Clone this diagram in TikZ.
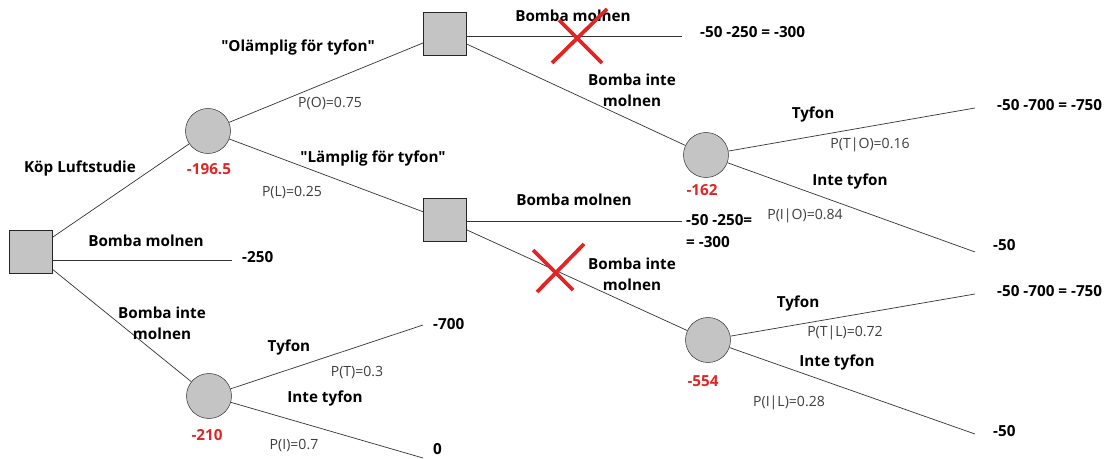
\documentclass[tikz,border=0pt]{standalone}
\usepackage{fontspec}
\setmainfont{Open Sans}[Ligatures=TeXOff]
\definecolor{nodegray}{RGB}{196,196,196}
\definecolor{valred}{RGB}{226,36,36}
\definecolor{probgray}{RGB}{62,62,62}

\begin{document}
\begin{tikzpicture}[x=0.03cm, y=-0.03cm,
      decision/.style={draw=black!85, fill=nodegray, minimum size=1.29cm, inner sep=0},
      chance/.style={circle, draw=black!85, fill=nodegray, minimum size=1.35cm, inner sep=0},
      branch/.style={line width=0.6pt, color=black!80},
      lbl/.style={font=\bfseries\fontsize{13}{18}\selectfont, inner sep=0, anchor=mid},
      twolbl/.style={lbl, align=center, anchor=center},
      prob/.style={font=\fontsize{12}{14}\selectfont, color=probgray, inner sep=0, anchor=mid},
      val/.style={lbl, color=valred},
      pay/.style={lbl, anchor=mid west},
      cross/.style={line width=3.2pt, color=valred}]
      \useasboundingbox (0,0) rectangle (1120,459);
      \node [decision] (root) at (31,252) {};
      \node [chance] (study) at (208,131) {};
      \node [chance] (nostudy) at (209,396) {};
      \node [decision] (decO) at (445,34) {};
      \node [decision] (decL) at (445,220) {};
      \node [chance] (typO) at (706,155) {};
      \node [chance] (typL) at (708,340) {};
      \coordinate (eRootB) at (232,260);
      \coordinate (eNoT) at (423,325);
      \coordinate (eNoI) at (423,458);
      \coordinate (eOB) at (682,36);
      \coordinate (eLB) at (682,221);
      \coordinate (eOT) at (975,108);
      \coordinate (eOI) at (975,252);
      \coordinate (eLT) at (975,294);
      \coordinate (eLI) at (975,434);
      \draw [branch] (root) -- (study);
      \draw [branch] (root.east |- eRootB) -- (eRootB);
      \draw [branch] (root) -- (nostudy);
      \draw [branch] (study) -- (decO);
      \draw [branch] (study) -- (decL);
      \draw [branch] (decO.east |- eOB) -- (eOB);
      \draw [branch] (decO) -- (typO);
      \draw [branch] (decL.east |- eLB) -- (eLB);
      \draw [branch] (decL) -- (typL);
      \draw [branch] (typO) -- (eOT);
      \draw [branch] (typO) -- (eOI);
      \draw [branch] (typL) -- (eLT);
      \draw [branch] (typL) -- (eLI);
      \draw [branch] (nostudy) -- (eNoT);
      \draw [branch] (nostudy) -- (eNoI);
      \node [pay] (vRootB) at (242,259) {-250};
      \node [pay] (vOB) at (700,34) {-50 -250 = -300};
      \node [pay] (vLB) at (686,222) {-50 -250=};
      \node [pay] (vLB2) at (686,244) {= -300};
      \node [pay] (vOT) at (997,107) {-50 -700 = -750};
      \node [pay] (vOI) at (993,247) {-50};
      \node [pay] (vLT) at (997,293) {-50 -700 = -750};
      \node [pay] (vLI) at (993,433) {-50};
      \node [pay] (vNoT) at (433,326) {-700};
      \node [pay] (vNoI) at (433,451) {0};
      \node [lbl] (kop) at (80,169) {Köp Luftstudie};
      \node [val] (v1965) at (209,171) {-196.5};
      \node [lbl] (olamp) at (298,48) {"Olämplig för tyfon"};
      \node [prob] (pO) at (330,104) {P(O)=0.75};
      \node [lbl] (lamp) at (373,159) {"Lämplig för tyfon"};
      \node [prob] (pL) at (292,193) {P(L)=0.25};
      \node [lbl] (bmO) at (573,18) {Bomba molnen};
      \node [twolbl] (bimO) at (632,90) {Bomba inte\\molnen};
      \node [val] (v162) at (702,192) {-162};
      \node [lbl] (bmL) at (574,202) {Bomba molnen};
      \node [twolbl] (bimL) at (632,274) {Bomba inte\\molnen};
      \node [val] (v554) at (703,383) {-554};
      \node [lbl] (tO) at (813,115) {Tyfon};
      \node [prob] (pTO) at (870,145) {P(T|O)=0.16};
      \node [lbl] (iO) at (850,182) {Inte tyfon};
      \node [prob] (pIO) at (805,216) {P(I|O)=0.84};
      \node [lbl] (tL) at (798,304) {Tyfon};
      \node [prob] (pTL) at (845,333) {P(T|L)=0.72};
      \node [lbl] (iL) at (837,363) {Inte tyfon};
      \node [prob] (pIL) at (789,403) {P(I|L)=0.28};
      \node [lbl] (bmR) at (146,243) {Bomba molnen};
      \node [twolbl] (bimR) at (162,323) {Bomba inte\\molnen};
      \node [val] (v210) at (207,437) {-210};
      \node [lbl] (tR) at (289,348) {Tyfon};
      \node [prob] (pT) at (357,373) {P(T)=0.3};
      \node [lbl] (iR) at (325,399) {Inte tyfon};
      \node [prob] (pI) at (294,446) {P(I)=0.7};
      \draw [cross] (552,63) -- (607,9);
      \draw [cross] (559,20) -- (602,63);
      \draw [cross] (537,292) -- (584,244);
      \draw [cross] (533,250) -- (573,290);
\end{tikzpicture}
\end{document}
